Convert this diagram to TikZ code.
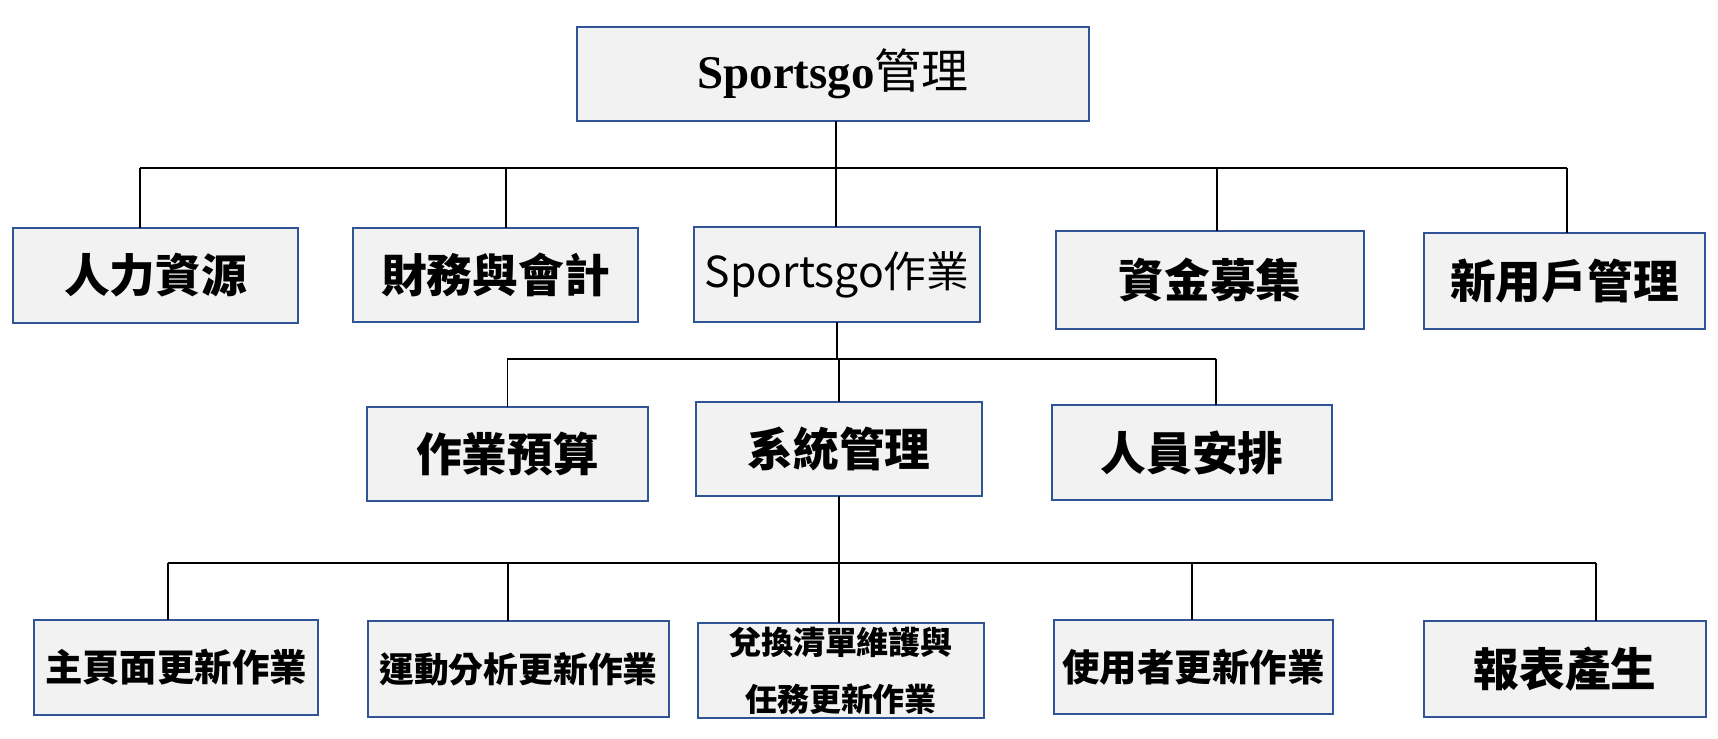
\documentclass[tikz,border=0pt]{standalone}
\usepackage{fontspec}
\setmainfont{Liberation Serif}
\newfontfamily\cjk{Noto Sans CJK TC}
\usepackage{tikz}
\usetikzlibrary{positioning,calc}
\definecolor{boxfill}{HTML}{F2F2F2}
\definecolor{boxline}{HTML}{2F5597}
\tikzset{
    every picture/.style={line join=miter},
    unitbox/.style={draw=boxline,fill=boxfill,line width=0.6pt,
      inner sep=1pt,outer sep=0pt,align=center},
    boxsize/.style 2 args={minimum width=#1*0.02cm,minimum height=#2*0.02cm},
    bigtext/.style={font=\cjk\bfseries\fontsize{26}{31}\selectfont},
    midtext/.style={font=\cjk\bfseries\fontsize{21.3}{26}\selectfont},
    smalltext/.style={font=\cjk\bfseries\fontsize{18.2}{32.4}\selectfont},
    bus/.style={draw=black,line width=1.4pt},
    drop/.style={draw=black,line width=1pt}
}

\begin{document}
\begin{tikzpicture}[x=0.02cm,y=-0.02cm]
  \useasboundingbox (0,0) rectangle (1718,738);
  % root
  \node[unitbox,boxsize={512}{94},font=\bfseries\fontsize{26.7}{32}\selectfont]
    (root) at (833,74) {Sportsgo{\cjk\mdseries 管理}};
  % first level
  \foreach \n/\x/\y/\w/\h/\t in {hr/155.5/275.5/285/95/人力資源,
      fin/495.5/275/285/94/財務與會計,fund/1210/280/308/98/資金募集,
      user/1564.5/281/281/96/新用戶管理} {
    \node[unitbox,bigtext,boxsize={\w}{\h}] (\n) at (\x,\y) {\t};
  }
  \node[unitbox,boxsize={286}{95},font=\cjk\fontsize{24.3}{29}\selectfont]
    (ops) at (837,274.5) {Sportsgo作業};
  % second level
  \foreach \n/\x/\y/\w/\h/\t in {budget/507.5/454/281/94/作業預算,
      sys/839/449/286/94/系統管理,staff/1192/452.5/280/95/人員安排} {
    \node[unitbox,bigtext,boxsize={\w}{\h}] (\n) at (\x,\y) {\t};
  }
  % third level
  \node[unitbox,midtext,boxsize={284}{95}] (home) at (176,667.5) {主頁面更新作業};
  \node[unitbox,midtext,boxsize={301}{96},font=\cjk\bfseries\fontsize{19.8}{24}\selectfont]
    (sport) at (518.5,669) {運動分析更新作業};
  \node[unitbox,smalltext,boxsize={286}{95}] (redeem) at (841,670.5)
    {兌換清單維護與\\任務更新作業};
  \node[unitbox,midtext,boxsize={279}{94}] (member) at (1193.5,667) {使用者更新作業};
  \node[unitbox,bigtext,boxsize={282}{96}] (report) at (1565,669) {報表產生};

  % buses
  \coordinate (bus1w) at (140,168);
  \coordinate (bus1e) at (1567,168);
  \coordinate (bus2w) at (507,359);
  \coordinate (bus2e) at (1216,359);
  \coordinate (bus3w) at (168,563);
  \coordinate (bus3e) at (1596,563);
  \draw[bus] (bus1w) -- (bus1e);
  \draw[bus] (bus2w) -- (bus2e);
  \draw[bus] (bus3w) -- (bus3e);
  \draw[drop] ([xshift=3*0.02cm]root.south) -- ([xshift=3*0.02cm]root.south |- bus1w);
  \draw[drop] (ops.south) -- (ops.south |- bus2w);
  \draw[drop] (sys.south) -- (sys.south |- bus3w);
  \foreach \n/\dx in {hr/-15.5,fin/10.5,ops/-1,fund/7,user/2.5}
    \draw[drop] ([xshift=\dx*0.02cm]\n.north) -- ([xshift=\dx*0.02cm]\n.north |- bus1w);
  \foreach \n/\dx in {budget/0,sys/0,staff/24}
    \draw[drop] ([xshift=\dx*0.02cm]\n.north) -- ([xshift=\dx*0.02cm]\n.north |- bus2w);
  \foreach \n/\dx in {home/-8,sport/-10.5,redeem/-2,member/-1.5,report/31}
    \draw[drop] ([xshift=\dx*0.02cm]\n.north) -- ([xshift=\dx*0.02cm]\n.north |- bus3w);
\end{tikzpicture}
\end{document}
